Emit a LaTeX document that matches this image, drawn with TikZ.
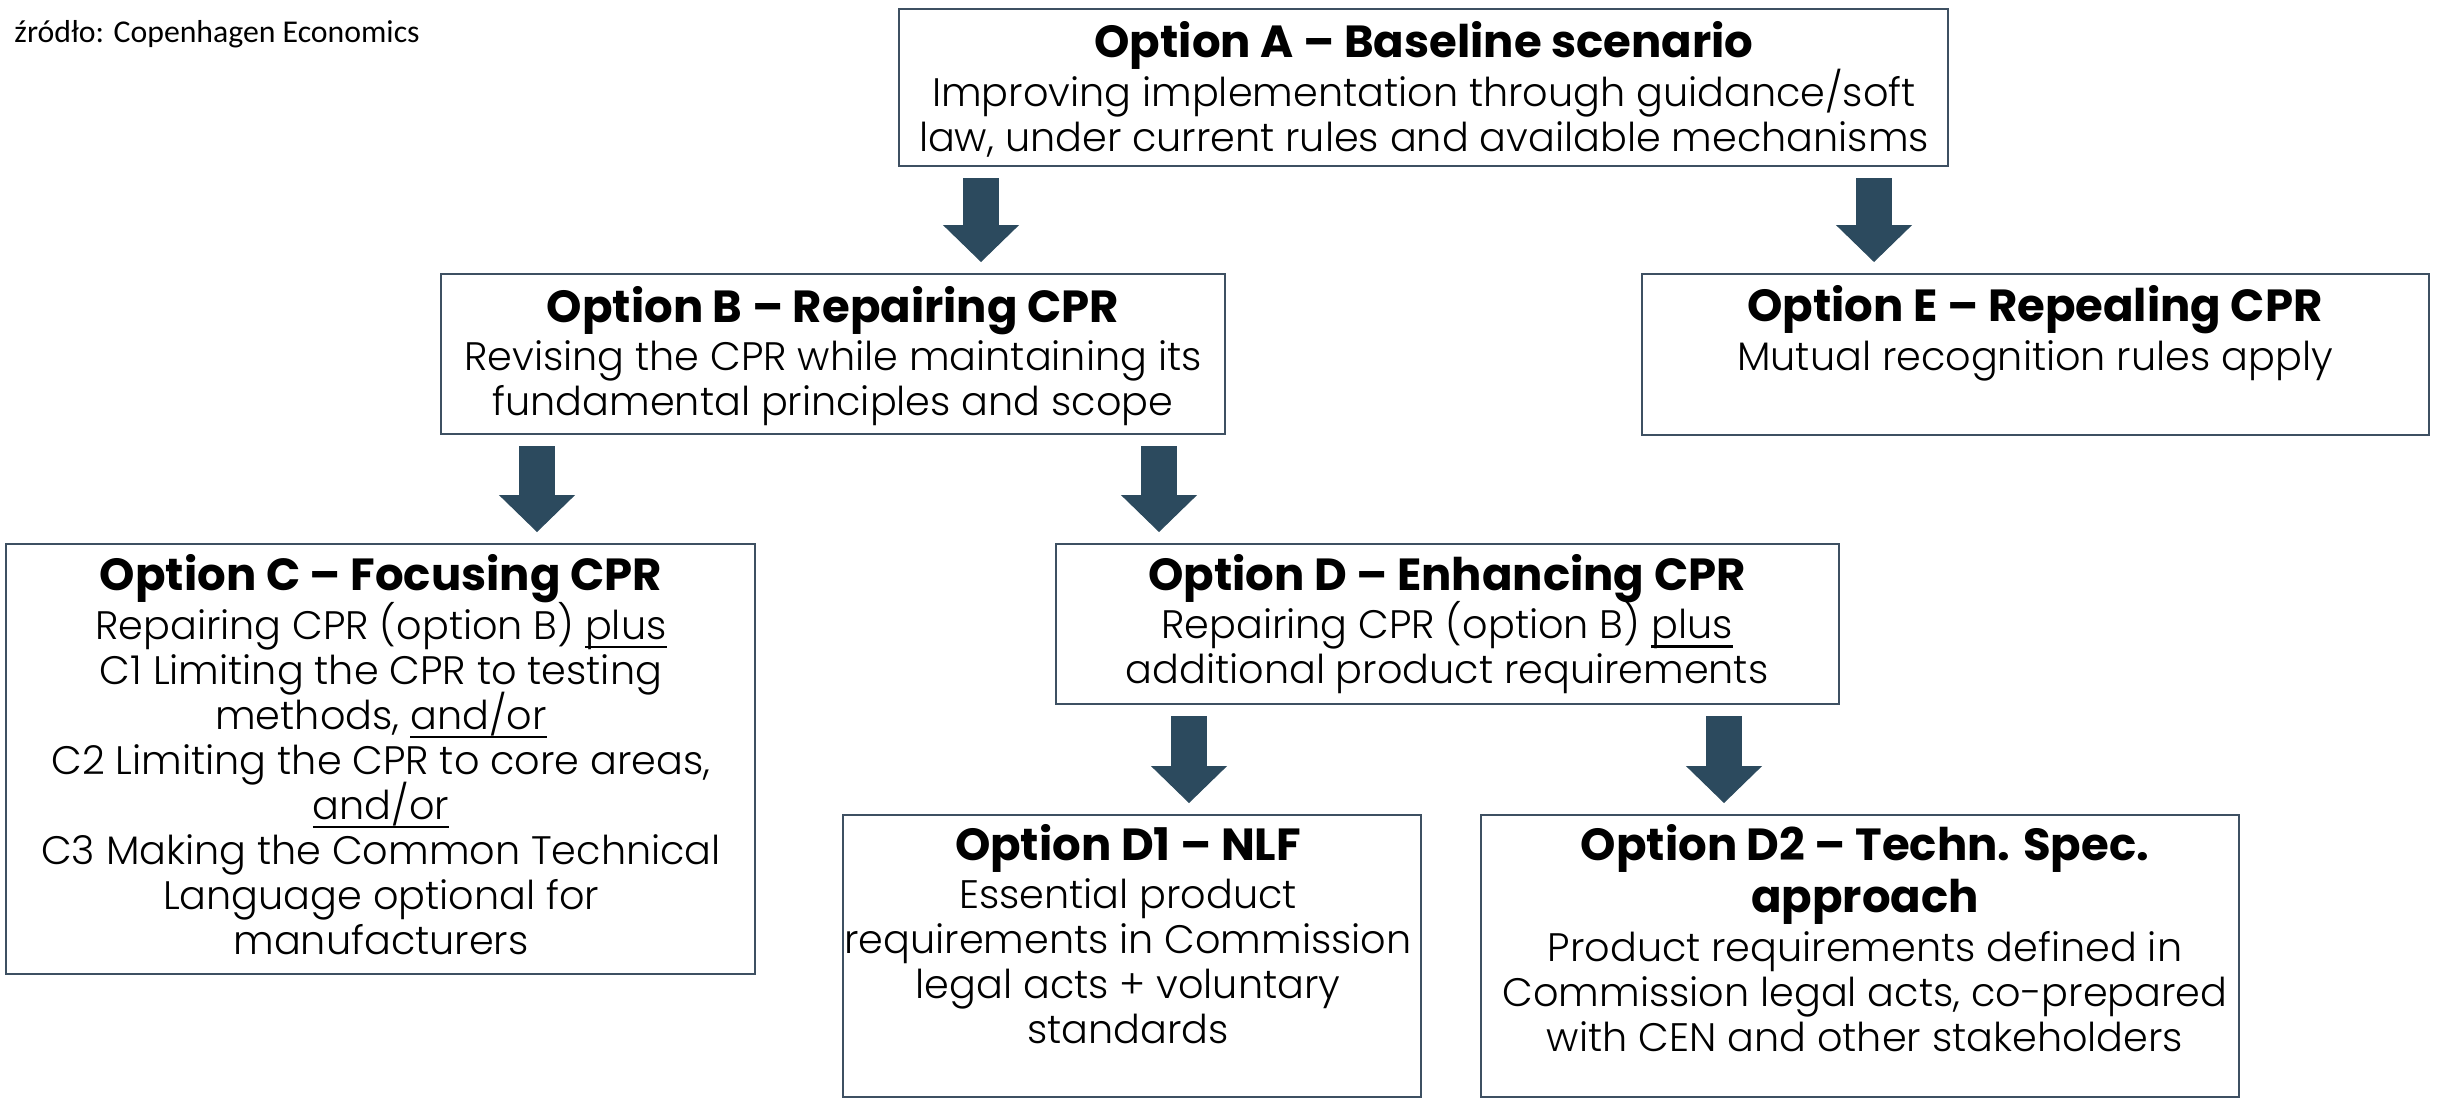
\documentclass[tikz,border=0pt]{standalone}
\usepackage{fontspec}
\setmainfont{Poppins}[UprightFont=* Light, BoldFont=* Bold]
\newfontfamily\srcfont{Carlito}
\usetikzlibrary{arrows.meta,fit}
\definecolor{boxline}{RGB}{62,80,98}
\definecolor{arrowfill}{RGB}{44,74,94}
\newcommand\ttl[1]{{\bfseries\fontsize{18pt}{18pt}\selectfont #1}}
\newcommand\optfont{\fontsize{15.9pt}{18pt}\selectfont\lineskiplimit-30pt\relax\lineskip0pt\relax}
\newcommand\uln[1]{\leavevmode\setbox0\hbox{#1}\rlap{\vrule width\wd0 height -2.5pt depth 3.5pt}\box0}
\tikzset{
  optbox/.style={draw=boxline, line width=0.8pt, inner sep=0pt, fill=white},
  optext/.style={align=center, inner sep=0pt, text=black, font=\optfont},
  blockarrow/.style={draw=arrowfill, line width=14.4pt,
    -{Triangle[width=30.4pt, length=14.8pt, line width=0.4pt]},
    shorten <=4.4pt, shorten >=4.4pt}
}
\begin{document}
\begin{tikzpicture}[x=0.4pt,y=-0.4pt]
\useasboundingbox[fill=white] (0,0) rectangle (2450,1107);
% source
\node[anchor=base west, inner sep=0pt, font=\srcfont\fontsize{12.7pt}{15pt}\selectfont] (src) at (14,42) {źródło: Copenhagen Economics};
% boxes
\node[optbox, fit={(899,9) (1948,166)}] (A) {};
\node[optbox, fit={(441,274) (1225,434)}] (B) {};
\node[optbox, fit={(1642,274) (2429,435)}] (E) {};
\node[optbox, fit={(6,544) (755,974)}] (C) {};
\node[optbox, fit={(1056,544) (1839,704)}] (D) {};
\node[optbox, fit={(843,815) (1421,1097)}] (D1) {};
\node[optbox, fit={(1481,815) (2239,1097)}] (D2) {};
% texts
\node[optext] (At) at (1424,89) {\ttl{Option A – Baseline scenario}\\[1.5pt]Improving implementation through guidance/soft\\law, under current rules and available mechanisms};
\node[optext] (Bt) at (833,356) {\ttl{Option B – Repairing CPR}\\[1.5pt]Revising the CPR while maintaining its\\fundamental principles and scope};
\node[optext] (Et) at (2035,333) {\ttl{Option E – Repealing CPR}\\[1.5pt]Mutual recognition rules apply};
\node[optext] (Ct) at (381,755) {\ttl{Option C – Focusing CPR}\\[1.5pt]Repairing CPR (option B) \uln{plus}\\C1 Limiting the CPR to testing\\methods, \uln{and/or}\\C2 Limiting the CPR to core areas,\\\uln{and/or}\\C3 Making the Common Technical\\Language optional for\\manufacturers};
\node[optext] (Dt) at (1447,624) {\ttl{Option D – Enhancing CPR}\\[1.5pt]Repairing CPR (option B) \uln{plus}\\additional product requirements};
\node[optext] (D1t) at (1128,934) {\ttl{Option D1 – NLF}\\[1.5pt]Essential product\\requirements in Commission\\legal acts + voluntary\\standards};
\node[optext] (D2t) at (1865,938) {\ttl{Option D2 – Techn. Spec.}\\[3pt]\ttl{approach}\\[1.5pt]Product requirements defined in\\Commission legal acts, co-prepared\\with CEN and other stakeholders};
% arrows
\draw[blockarrow] (981,0 |- A.south) -- (981,0 |- B.north);
\draw[blockarrow] (1874,0 |- A.south) -- (1874,0 |- E.north);
\draw[blockarrow] (537,0 |- B.south) -- (537,0 |- C.north);
\draw[blockarrow] (1159,0 |- B.south) -- (1159,0 |- D.north);
\draw[blockarrow] (1189,0 |- D.south) -- (1189,0 |- D1.north);
\draw[blockarrow] (1724,0 |- D.south) -- (1724,0 |- D2.north);
\end{tikzpicture}
\end{document}
